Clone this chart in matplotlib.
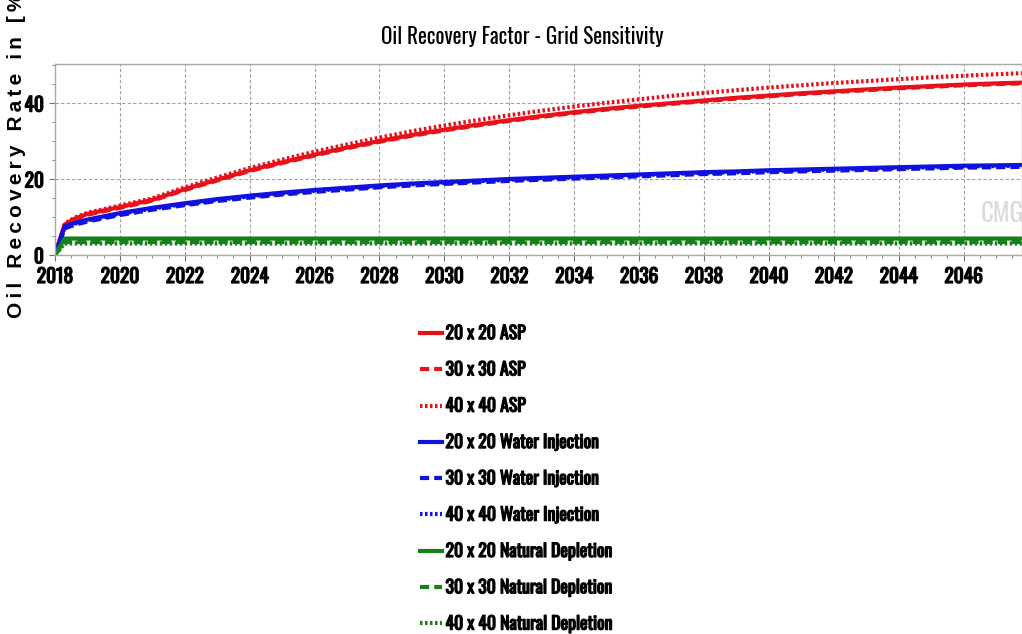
import matplotlib.pyplot as plt
import matplotlib.patheffects as pe
import numpy as np

narrow = ['Oswald', 'Roboto Condensed', 'DejaVu Sans']
plt.rcParams['font.family'] = narrow
# Oswald only ships one weight here, so thicken the strokes for the bold labels
heavy = [pe.withStroke(linewidth=0.9, foreground='black')]

# recovery factor [%] read at these dates
years = [2018.0, 2018.3, 2018.6, 2019, 2020, 2021, 2022, 2023, 2024, 2025, 2026, 2027, 2028,
         2029, 2030, 2031, 2032, 2033, 2034, 2035, 2036, 2037, 2038, 2039, 2040,
         2041, 2042, 2043, 2044, 2045, 2046, 2047, 2047.8]

asp_20 = [0, 8.0, 9.5, 10.8, 12.6, 14.5, 17.3, 19.8, 22.3, 24.4, 26.4, 28.3, 30.0,
          31.6, 33.0, 34.3, 35.5, 36.6, 37.6, 38.5, 39.3, 40.0, 40.7, 41.4, 42.0,
          42.6, 43.1, 43.6, 44.1, 44.5, 44.9, 45.2, 45.4]
asp_30 = [0, 7.8, 9.3, 10.6, 12.4, 14.3, 17.1, 19.6, 22.1, 24.2, 26.2, 28.1, 29.8,
          31.4, 32.8, 34.1, 35.3, 36.4, 37.4, 38.3, 39.1, 39.8, 40.5, 41.2, 41.8,
          42.4, 42.9, 43.4, 43.9, 44.3, 44.7, 45.0, 45.2]
asp_40 = [0, 8.2, 9.8, 11.1, 13.0, 14.9, 17.8, 20.4, 22.9, 25.1, 27.2, 29.1, 30.9,
          32.6, 34.1, 35.5, 36.8, 38.0, 39.1, 40.1, 41.0, 41.9, 42.7, 43.4, 44.1,
          44.7, 45.3, 45.8, 46.3, 46.8, 47.2, 47.6, 47.9]

wi_20 = [0, 7.5, 8.4, 9.3, 11.0, 12.4, 13.6, 14.7, 15.6, 16.4, 17.1, 17.7, 18.3,
         18.8, 19.2, 19.6, 20.0, 20.3, 20.6, 20.9, 21.2, 21.5, 21.8, 22.0, 22.3,
         22.5, 22.7, 22.9, 23.1, 23.3, 23.5, 23.6, 23.7]
wi_30 = [0, 7.0, 7.9, 8.8, 10.5, 11.9, 13.1, 14.2, 15.1, 15.9, 16.6, 17.2, 17.8,
         18.3, 18.7, 19.1, 19.5, 19.8, 20.1, 20.4, 20.7, 21.0, 21.3, 21.5, 21.8,
         22.0, 22.2, 22.4, 22.6, 22.8, 23.0, 23.1, 23.2]
wi_40 = [0, 7.3, 8.2, 9.1, 10.8, 12.2, 13.4, 14.5, 15.4, 16.2, 16.9, 17.5, 18.1,
         18.6, 19.0, 19.4, 19.8, 20.1, 20.4, 20.7, 21.0, 21.3, 21.6, 21.8, 22.1,
         22.3, 22.5, 22.7, 22.9, 23.1, 23.3, 23.4, 23.5]

nd_20 = [0, 4.3, 4.3, 4.3, 4.3, 4.3, 4.3, 4.3, 4.3, 4.3, 4.3, 4.3, 4.3,
         4.3, 4.3, 4.3, 4.3, 4.3, 4.3, 4.3, 4.3, 4.3, 4.3, 4.3, 4.3,
         4.3, 4.3, 4.3, 4.3, 4.3, 4.3, 4.3, 4.3]
nd_30 = [0, 3.4, 3.4, 3.4, 3.4, 3.4, 3.4, 3.4, 3.4, 3.4, 3.4, 3.4, 3.4,
         3.4, 3.4, 3.4, 3.4, 3.4, 3.4, 3.4, 3.4, 3.4, 3.4, 3.4, 3.4,
         3.4, 3.4, 3.4, 3.4, 3.4, 3.4, 3.4, 3.4]
nd_40 = [0, 3.0, 3.0, 3.0, 3.0, 3.0, 3.0, 3.0, 3.0, 3.0, 3.0, 3.0, 3.0,
         3.0, 3.0, 3.0, 3.0, 3.0, 3.0, 3.0, 3.0, 3.0, 3.0, 3.0, 3.0,
         3.0, 3.0, 3.0, 3.0, 3.0, 3.0, 3.0, 3.0]

red, blue, green = '#e8111a', '#1010e0', '#17801a'
dash, dots = (0, (2.2, 1.2)), (0, (0.6, 0.6))
series = [
    ('20 x 20 ASP', asp_20, red, '-'),
    ('30 x 30 ASP', asp_30, red, dash),
    ('40 x 40 ASP', asp_40, red, dots),
    ('20 x 20 Water Injection', wi_20, blue, '-'),
    ('30 x 30 Water Injection', wi_30, blue, dash),
    ('40 x 40 Water Injection', wi_40, blue, dots),
    ('20 x 20 Natural Depletion', nd_20, green, '-'),
    ('30 x 30 Natural Depletion', nd_30, green, dash),
    ('40 x 40 Natural Depletion', nd_40, green, dots),
]

fig = plt.figure(figsize=(10.22, 6.34), dpi=100)
ax = fig.add_axes([0.0538, 0.598, 0.9462, 0.301])

for label, vals, col, ls in series:
    ax.plot(years, vals, color=col, linestyle=ls, linewidth=3, label=label)

ax.set_xlim(2018, 2047.8)
ax.set_ylim(0, 50.3)
ax.set_xticks(np.arange(2018, 2047, 2))
ax.set_xticks(np.arange(2018, 2048, 0.5), minor=True)
ax.set_yticks([0, 20, 40])
ax.set_yticks(np.arange(0, 51, 5), minor=True)
ax.grid(True, which='major', linestyle=(0, (3, 2)), color='#a0a0a0', linewidth=0.8)
ax.tick_params(which='major', direction='out', length=4, color='#707070', labelsize=14, pad=4)
ax.tick_params(which='minor', direction='out', length=2.5, color='#707070')
for lab in ax.get_xticklabels() + ax.get_yticklabels():
    lab.set_path_effects(heavy)
for sp in ax.spines.values():
    sp.set_color('#a8a8a8')
    sp.set_linewidth(1)

ax.text(2047.85, 10.8, 'CMG', fontsize=18, color='#dadada', ha='right', va='center', zorder=0)

fig.text(0.511, 0.942, 'Oil Recovery Factor - Grid Sensitivity', ha='center', va='center',
         fontsize=15.3)
# wide-tracked axis title: thin spaces between the letters
ylab = '\u2009'.join('Oil Recovery Rate in [%]')
fig.text(0.016, 0.498, ylab, rotation=90, ha='center', va='bottom',
         fontsize=15, fontweight='bold', family=['Liberation Sans', 'DejaVu Sans'])

leg = fig.legend(loc='upper left', bbox_to_anchor=(0.395, 0.514), frameon=False,
                 handlelength=1.25, handletextpad=0.2, labelspacing=1.03,
                 prop={'family': narrow, 'size': 12.8})
for t in leg.get_texts():
    t.set_path_effects(heavy)

fig.savefig('out.png', dpi=100)
